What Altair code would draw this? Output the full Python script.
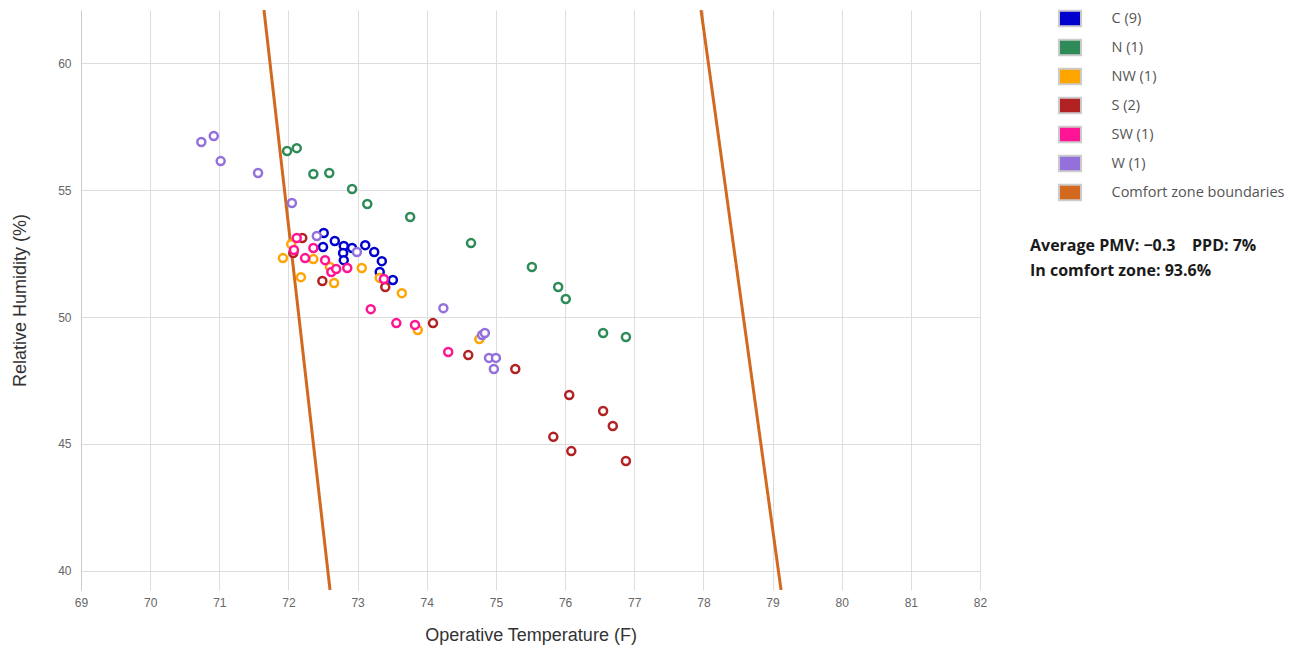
import altair as alt
import pandas as pd

# ---- data ----
groups = ["C (9)", "N (1)", "NW (1)", "S (2)", "SW (1)", "W (1)", "Comfort zone boundaries"]
colors = ["#0000CD", "#2E8B57", "#FFA500", "#B22222", "#FF1493", "#9370DB", "#D2691E"]

c_temp = [72.51, 72.67, 72.50, 72.80, 72.79, 72.80, 72.92, 73.11, 73.24, 73.35, 73.32, 73.51]
c_rh = [53.31, 52.99, 52.76, 52.80, 52.52, 52.24, 52.72, 52.83, 52.56, 52.20, 51.77, 51.46]

n_temp = [71.98, 72.12, 72.36, 72.59, 72.92, 73.14, 73.76, 74.64, 75.52, 75.90, 76.01, 76.55, 76.88]
n_rh = [56.54, 56.65, 55.63, 55.67, 55.04, 54.45, 53.94, 52.91, 51.97, 51.18, 50.71, 49.37, 49.21]

nw_temp = [71.92, 72.04, 72.18, 72.36, 72.60, 72.66, 73.06, 73.32, 73.64, 73.87, 74.76]
nw_rh = [52.32, 52.87, 51.57, 52.28, 51.97, 51.34, 51.93, 51.54, 50.94, 49.49, 49.13]

s_temp = [72.20, 72.07, 72.49, 73.40, 74.09, 74.60, 75.28, 76.06, 76.55, 76.69, 75.83, 76.09, 76.88]
s_rh = [53.11, 52.52, 51.42, 51.18, 49.76, 48.50, 47.95, 46.93, 46.30, 45.71, 45.28, 44.72, 44.33]

sw_temp = [72.12, 72.08, 72.24, 72.36, 72.53, 72.62, 72.69, 72.85, 73.38, 73.19, 73.56, 73.83, 74.31]
sw_rh = [53.11, 52.64, 52.32, 52.72, 52.24, 51.77, 51.89, 51.93, 51.50, 50.31, 49.76, 49.69, 48.62]

w_temp = [70.74, 70.92, 71.02, 71.56, 72.05, 72.41, 72.99, 74.24, 74.80, 74.84, 74.90, 75.00, 74.97]
w_rh = [56.89, 57.13, 56.14, 55.67, 54.49, 53.19, 52.56, 50.35, 49.29, 49.37, 48.39, 48.39, 47.95]

comfort_line = ["left", "left", "right", "right"]
comfort_temp = [71.646, 72.601, 77.966, 79.123]
comfort_rh = [62.09, 39.25, 62.09, 39.25]

x_ticks = list(range(69, 83))
y_ticks = [40, 45, 50, 55, 60]
x_domain = [69, 82]
y_domain = [39.25, 62.09]

stats_lines = ["Average PMV: \u22120.3\u00a0\u00a0\u00a0\u00a0PPD: 7%", "In comfort zone: 93.6%"]

# ---- frames ----
series = [
    (groups[0], c_temp, c_rh),
    (groups[1], n_temp, n_rh),
    (groups[2], nw_temp, nw_rh),
    (groups[3], s_temp, s_rh),
    (groups[4], sw_temp, sw_rh),
    (groups[5], w_temp, w_rh),
]
rows = []
for g, ts, rs in series:
    for t, r in zip(ts, rs):
        rows.append({"group": g, "temp": t, "rh": r})
pts_df = pd.DataFrame(rows)
pts_df["idx"] = range(len(pts_df))

line_df = pd.DataFrame({
    "group": [groups[6]] * len(comfort_line),
    "line": comfort_line,
    "temp": comfort_temp,
    "rh": comfort_rh,
})
legend_df = pd.DataFrame({"group": groups})
text_df = pd.DataFrame({"t": ["\n".join(stats_lines)]})

AXIS_FONT = "Liberation Sans"

x_enc = alt.X(
    "temp:Q",
    scale=alt.Scale(domain=x_domain, nice=False, zero=False),
    axis=alt.Axis(
        values=x_ticks, grid=True, gridColor="#dddddd", domain=False, ticks=False,
        labelPadding=7, labelFont=AXIS_FONT, labelFontSize=12, labelColor="#666666",
        labelFlush=False, title="Operative Temperature (F)", titleFont=AXIS_FONT,
        titleFontSize=18, titleFontWeight="normal", titleColor="#333333",
        titleY=45, titleBaseline="middle",
    ),
)
y_enc = alt.Y(
    "rh:Q",
    scale=alt.Scale(domain=y_domain, nice=False, zero=False),
    axis=alt.Axis(
        values=y_ticks, grid=True, gridColor="#dddddd", domain=True, domainColor="#cccccc",
        ticks=False, labelPadding=10, labelFont=AXIS_FONT, labelFontSize=12,
        labelColor="#666666", labelFlush=False, title="Relative Humidity (%)",
        titleFont=AXIS_FONT, titleFontSize=18, titleFontWeight="normal",
        titleColor="#333333", titleX=-61, titleY=290, titleAngle=270,
        titleAlign="center", titleBaseline="middle",
    ),
)

# stroke scale uses the same mapping, listed in reverse so it stays a separate scale
stroke_scale = alt.Scale(domain=groups[::-1], range=colors[::-1])

lines = alt.Chart(line_df).mark_line(strokeWidth=3, clip=True).encode(
    x=x_enc, y=y_enc,
    stroke=alt.Stroke("group:N", scale=stroke_scale, legend=None),
    detail="line:N",
)

points = alt.Chart(pts_df).mark_point(
    filled=False, fill="white", fillOpacity=1, strokeWidth=2.5, size=64, shape="circle", opacity=1
).encode(
    x=x_enc, y=y_enc,
    stroke=alt.Stroke("group:N", scale=stroke_scale, legend=None),
    order=alt.Order("idx:Q"),
)

legend_layer = alt.Chart(legend_df).mark_square(size=0, filled=True, opacity=1).encode(
    x=alt.value(0), y=alt.value(0),
    fill=alt.Fill(
        "group:N", scale=alt.Scale(domain=groups, range=colors), sort=groups,
        legend=alt.Legend(
            title=None, orient="none", legendX=979.5, legendY=-1,
            symbolType="M-1.3,-0.9H1.3V0.9H-1.3Z", symbolSize=289, symbolOpacity=1,
            symbolStrokeColor="#cccccc", symbolStrokeWidth=2,
            labelFont="Open Sans", labelFontSize=14.5, labelColor="#555555",
            labelOffset=32, labelLimit=300, rowPadding=4,
        ),
    ),
)

text = alt.Chart(text_df).mark_text(
    align="left", baseline="middle", lineBreak="\n", lineHeight=25,
    font="Open Sans", fontSize=16, fontWeight="bold", color="#1a1a1a",
).encode(
    x=alt.value(949), y=alt.value(236), text="t:N",
)

chart = alt.layer(lines, points, legend_layer, text).properties(
    width=899, height=580,
    autosize=alt.AutoSizeParams(type="none"),
    padding={"left": 73, "top": 2, "right": 310, "bottom": 62},
).configure_view(stroke=None)

chart.save("out.html", embed_options={"renderer": "svg", "actions": False})
